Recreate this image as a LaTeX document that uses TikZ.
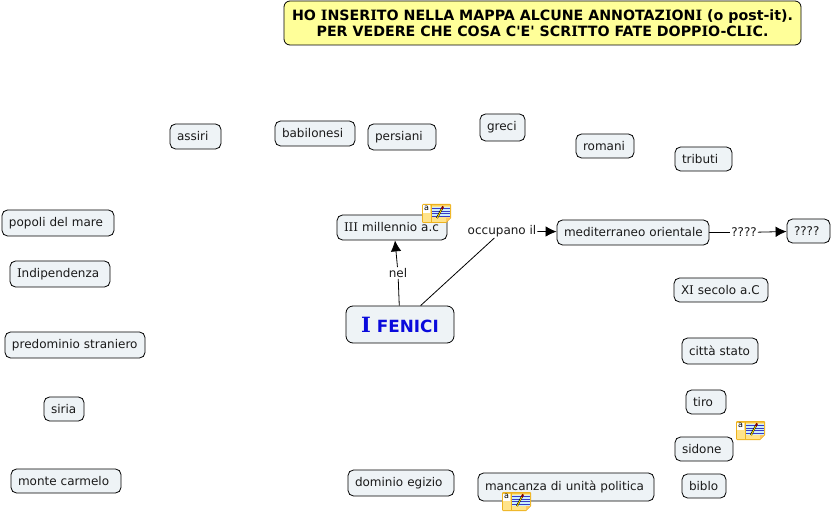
\documentclass[tikz,border=0pt]{standalone}
\usepackage{fontspec}
\setmainfont{DejaVu Sans}
\newfontfamily\serifI{DejaVu Serif}
\newfontfamily\noteface{DejaVu Sans}
\usetikzlibrary{arrows.meta,calc}
\definecolor{boxfill}{HTML}{EEF3F6}
\definecolor{notefill}{HTML}{FFFF99}
\definecolor{iconfill}{HTML}{FFE38A}
\definecolor{iconedge}{HTML}{EDB21E}
\definecolor{inktext}{HTML}{1A1A1A}
\definecolor{rootblue}{HTML}{0A0ADC}
\newcommand{\vI}{{\serifI I}}
\newcommand{\mapnode}[6]{%
  \pgfmathsetmacro{\cxx}{(#2+#4)/2}%
  \pgfmathsetmacro{\cyy}{(#3+#5)/2}%
  \pgfmathsetmacro{\www}{#4-#2}%
  \pgfmathsetmacro{\hhh}{#5-#3}%
  \pgfmathsetmacro{\ttw}{#4-#2-14}%
  \node[mapbox,minimum width=\www pt,minimum height=\hhh pt,text width=\ttw pt] (#1) at (\cxx,\cyy) {\mbox{#6}};}
\tikzset{
  mapbox/.style={draw=black,line width=0.8pt,fill=boxfill,rounded corners=5.5pt,inner xsep=7pt,inner ysep=0pt,align=left,font=\fontsize{12}{13}\selectfont,text=inktext},
  rootbox/.style={mapbox,rounded corners=7pt,align=center,text=rootblue,font=\fontsize{16.8}{18}\bfseries\selectfont},
  topnote/.style={draw=black,line width=0.8pt,fill=notefill,rounded corners=6pt,align=center,inner sep=0pt,minimum width=517pt,minimum height=44pt,font=\noteface\fontsize{14.2}{16.5}\bfseries\selectfont,text=black},
  linklabel/.style={fill=white,inner xsep=1pt,inner ysep=1pt,font=\fontsize{12}{13}\selectfont,text=inktext},
  link/.style={draw=black,line width=0.8pt},
  linkarrow/.style={link,-{Latex[length=11pt,width=10.5pt]}},
  pics/noteicon/.style={code={
    \fill[iconedge] (0,1) -- (0,18) -- (1,19) -- (24,19) -- (29,14) -- (29,1) -- (28,0) -- (1,0) -- cycle;
    \fill[iconfill] (1,1.5) rectangle (28,14) (1,14) rectangle (24,18);
    \fill[iconfill!70!orange] (24,18) -- (28,14) -- (24,14) -- cycle;
    \draw[iconedge,line width=0.5pt] (8.8,1) -- (8.8,18);
    \fill[white] (1,1.5) rectangle (8.3,9);
    \node[inner sep=0pt,font=\fontsize{8}{8}\selectfont,text=black] at (4.6,4.8) {a};
    \fill[white!80!cyan] (10,3) rectangle (27.5,13.5);
    \foreach \ly in {4.5,7,9.5,12}{\draw[blue!55!gray,line width=0.7pt] (10,\ly) -- (27.5,\ly);}
    \draw[black,line width=1.9pt] (15,14) -- (20,4.5);
    \draw[yellow!80!orange,line width=0.9pt] (15.2,14) -- (19.8,5);
    \fill[red!50!black] (18.8,4.6) -- (20.2,1.9) -- (22,2.9) -- (20.6,5.6) -- cycle;
  }}
}
\begin{document}
\begin{tikzpicture}[x=1pt,y=-1pt]
\useasboundingbox (0,0) rectangle (831,513);
\node[topnote] (note) at (542.5,23) {HO {\bfseries\serifI I}NSER{\bfseries\serifI I}TO NELLA MAPPA ALCUNE ANNOTAZ{\bfseries\serifI I}ON{\bfseries\serifI I} (o post-it).\\PER VEDERE CHE COSA C'E' SCR{\bfseries\serifI I}TTO FATE DOPP{\bfseries\serifI I}O-CL{\bfseries\serifI I}C.};
\mapnode{assiri}{170}{124}{221}{149}{assiri}
\mapnode{babilonesi}{275}{121}{355}{146}{babilonesi}
\mapnode{persiani}{368}{124}{436}{150}{persiani}
\mapnode{greci}{480}{114}{525}{141}{greci}
\mapnode{romani}{576}{134}{634}{158}{romani}
\mapnode{tributi}{675}{147}{732}{171}{tributi}
\mapnode{popoli}{2}{210}{114}{236}{popoli del mare}
\mapnode{millennio}{337}{215}{447}{240}{\vI\vI\vI{} millennio a.c}
\mapnode{mediterraneo}{557}{220}{709}{245}{mediterraneo orientale}
\mapnode{qbox}{787}{219}{830}{243}{????}
\mapnode{indip}{10}{261}{110}{287}{\vI ndipendenza}
\mapnode{secolo}{674}{278}{768}{302}{X\vI{} secolo a.C}
\mapnode{predominio}{5}{332}{145}{358}{predominio straniero}
\mapnode{citta}{682}{338}{758}{364}{città stato}
\mapnode{siria}{44}{397}{84}{421}{siria}
\mapnode{tiro}{686}{390}{726}{414}{tiro}
\mapnode{sidone}{675}{437}{733}{461}{sidone}
\mapnode{carmelo}{11}{469}{121}{493}{monte carmelo}
\mapnode{egizio}{348}{470}{454}{496}{dominio egizio}
\mapnode{mancanza}{478}{473}{654}{501}{mancanza di unità politica}
\mapnode{biblo}{682}{474}{726}{498}{biblo}
\node[rootbox,minimum width=108pt,minimum height=37pt] (fenici) at (400,324.5) {{\serifI\fontsize{21}{21}\selectfont I} FENICI};
\node[linklabel] (nel) at (398,273) {nel};
\node[linklabel] (occupano) at (502,231) {occupano il};
\node[linklabel] (qlabel) at (744,232.5) {????};
\draw[link] (fenici) -- (nel);
\draw[linkarrow] (nel) -- ($(millennio.south)+(3,0)$);
\draw[link] (fenici) -- (occupano);
\draw[linkarrow] (occupano) -- (mediterraneo);
\draw[link] (mediterraneo) -- (qlabel);
\draw[linkarrow] (qlabel) -- (qbox);
\pic at (422,204) {noteicon};
\pic at (736,421) {noteicon};
\pic at (502,492) {noteicon};
\end{tikzpicture}
\end{document}
